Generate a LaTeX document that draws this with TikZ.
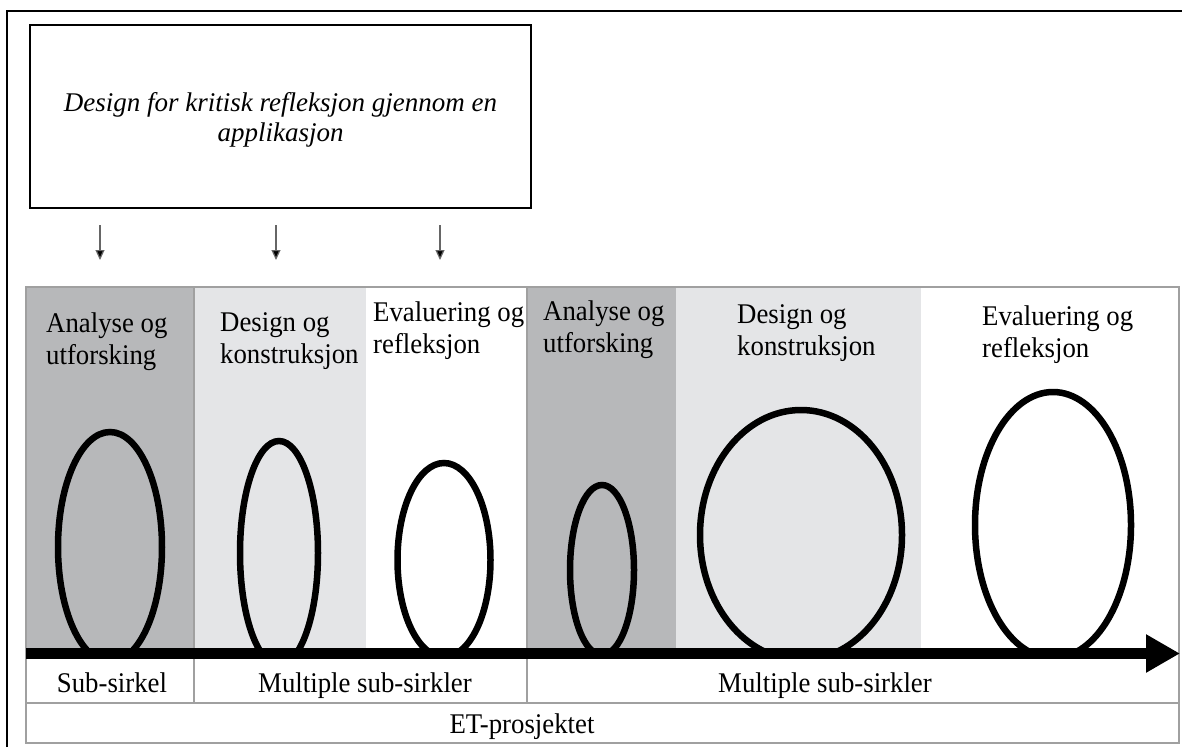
\documentclass[tikz,border=0pt]{standalone}
\usepackage{fontspec}
\setmainfont{Liberation Serif}[FakeStretch=0.94]
\newfontfamily\topfont{Liberation Serif}
\usetikzlibrary{arrows.meta}
\definecolor{darkcol}{HTML}{B7B8BA}
\definecolor{lightcol}{HTML}{E4E5E7}
\definecolor{bordergray}{HTML}{A0A0A0}
\tikzset{
  lbl/.style={anchor=base west, align=left, inner sep=0pt, font=\fontsize{28.5}{32}\selectfont},
  rowlbl/.style={anchor=base, inner sep=0pt, font=\fontsize{28.5}{32}\selectfont},
  loop/.style={line width=6.5, draw=black},
  smallarrow/.style={draw=gray!80!black, line width=1.2, -{Triangle[length=10,width=9,fill=black]}},
  grayline/.style={draw=bordergray, line width=1.5},
}
\begin{document}
\begin{tikzpicture}[x=1pt,y=-1pt]
\useasboundingbox (0,0) rectangle (1182,747);
% outer frame (clipped)
\draw[line width=1.5] (7,747) -- (7,11) -- (1182,11);
% top box
\node[draw, line width=1.3, minimum width=501, minimum height=183, inner sep=0pt] (top) at (280.5,116.5) {};
\node[anchor=base, align=center, inner sep=0pt,
      font=\topfont\fontsize{27}{30}\selectfont\itshape] (toptext) at (280.5,141.5)
  {Design for kritisk refleksjon gjennom en\\applikasjon};
% small arrows
\coordinate (a1s) at (100,225); \coordinate (a1e) at (100,260);
\coordinate (a2s) at (276,225); \coordinate (a2e) at (276,260);
\coordinate (a3s) at (440,225); \coordinate (a3e) at (440,260);
\draw[smallarrow] (a1s) -- (a1e);
\draw[smallarrow] (a2s) -- (a2e);
\draw[smallarrow] (a3s) -- (a3e);
% column fills
\fill[darkcol] (26,287) rectangle (194,648);
\fill[lightcol] (194,287) rectangle (366,648);
\fill[darkcol] (527,287) rectangle (676,648);
\fill[lightcol] (676,287) rectangle (921,648);
% band borders
\draw[grayline] (26,287) rectangle (1179,743);
\draw[grayline] (26,703) -- (1179,703);
\draw[grayline] (194,287) -- (194,703);
\draw[grayline] (527,287) -- (527,703);
% loops
\begin{scope}
\clip (26,287) rectangle (1179,650);
\draw[loop] (110,547) ellipse [x radius=52, y radius=115];
\draw[loop] (279,553) ellipse [x radius=39, y radius=112];
\draw[loop] (444,560) ellipse [x radius=46.5, y radius=97];
\draw[loop] (602,570) ellipse [x radius=32, y radius=85];
\draw[loop] (801,535) ellipse [x radius=101, y radius=125];
\draw[loop] (1053,525) ellipse [x radius=78, y radius=133];
\end{scope}
% main time arrow
\coordinate (bs) at (26,653.5);
\coordinate (be) at (1180,653.5);
\draw[line width=11, -{Triangle[length=34,width=36]}] (bs) -- (be);
% phase labels (anchored at baseline of last line)
\node[lbl] (l1) at (46,364) {Analyse og\\utforsking};
\node[lbl] (l2) at (220,363) {Design og\\konstruksjon};
\node[lbl] (l3) at (373,353) {Evaluering og\\refleksjon};
\node[lbl] (l4) at (543,352) {Analyse og\\utforsking};
\node[lbl] (l5) at (737,355) {Design og\\konstruksjon};
\node[lbl] (l6) at (982,357) {Evaluering og\\refleksjon};
% bottom labels
\node[rowlbl] (r1) at (112,692) {Sub-sirkel};
\node[rowlbl] (r2) at (365,692) {Multiple sub-sirkler};
\node[rowlbl] (r3) at (825,692) {Multiple sub-sirkler};
\node[rowlbl] (r4) at (522,733) {ET-prosjektet};
\end{tikzpicture}
\end{document}
